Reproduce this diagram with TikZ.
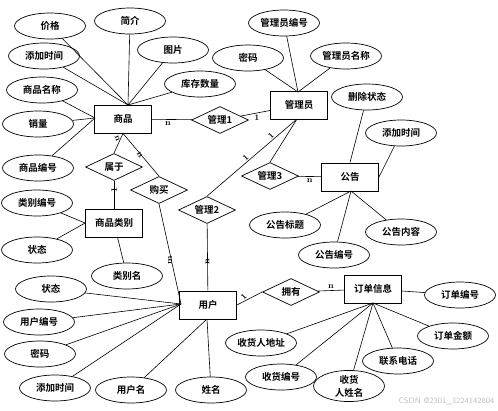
\documentclass[tikz,border=0pt]{standalone}
\usepackage{fontspec}
\newfontfamily\cjk{Noto Sans CJK SC}[BoldFont={Noto Sans CJK SC Bold}]
\usetikzlibrary{shapes.geometric}
\tikzset{
  attr/.style={ellipse, draw, line width=0.7pt, minimum width=71pt, minimum height=26pt, inner sep=0pt, font=\cjk\bfseries\fontsize{9.5}{10}\selectfont},
  ent/.style={rectangle, draw, line width=0.9pt, minimum width=57pt, minimum height=28pt, inner sep=0pt, font=\cjk\bfseries\fontsize{9.5}{10}\selectfont},
  rel/.style={diamond, draw, line width=0.7pt, minimum width=57pt, minimum height=27pt, aspect=2.2, inner sep=0pt, font=\cjk\bfseries\fontsize{9.5}{10}\selectfont},
  card/.style={font=\bfseries\fontsize{8.5}{8.5}\selectfont, inner sep=1.5pt},
  lk/.style={line width=0.6pt}
}

\begin{document}
\begin{tikzpicture}[x=1pt, y=-1pt]
  \useasboundingbox (0,0) rectangle (498,410);

  % entities
  \node[ent] (sp)   at (123,119) {商品};
  \node[ent] (splb) at (114,223) {商品类别};
  \node[ent] (gly)  at (299,105) {管理员};
  \node[ent] (gg)   at (350,177) {公告};
  \node[ent] (yh)   at (208,305) {用户};
  \node[ent] (dd)   at (373,289) {订单信息};

  % relationships
  \node[rel] (gl1) at (220,120) {管理1};
  \node[rel] (sy)  at (114,167) {属于};
  \node[rel] (gm)  at (159,190) {购买};
  \node[rel] (gl2) at (207,210) {管理2};
  \node[rel] (gl3) at (270,176) {管理3};
  \node[rel] (yy)  at (291,292) {拥有};

  % attributes of 商品
  \node[attr] (jg)   at (50,26)  {价格};
  \node[attr] (jj)   at (130,21) {简介};
  \node[attr] (tj1)  at (44,56)  {添加时间};
  \node[attr] (tp)   at (173,50) {图片};
  \node[attr] (spmc) at (42,90)  {商品名称};
  \node[attr] (kc)   at (200,84) {库存数量};
  \node[attr] (xl)   at (38,124) {销量};
  \node[attr] (spbh) at (38,168) {商品编号};

  % attributes of 商品类别
  \node[attr] (lbbh) at (37,203) {类别编号};
  \node[attr] (zt1)  at (37,250) {状态};
  \node[attr] (lbm)  at (127,276) {类别名};

  % attributes of 管理员
  \node[attr] (glybh) at (284,23) {管理员编号};
  \node[attr] (mm1)   at (248,58) {密码};
  \node[attr] (glymc) at (346,56) {管理员名称};

  % attributes of 公告
  \node[attr] (sczt) at (367,97)  {删除状态};
  \node[attr] (tj2)  at (401,133) {添加时间};
  \node[attr] (ggbt) at (285,225) {公告标题};
  \node[attr] (ggbh) at (334,255) {公告编号};
  \node[attr] (ggnr) at (401,232) {公告内容};

  % attributes of 用户
  \node[attr] (zt2)  at (51,289)  {状态};
  \node[attr] (yhbh) at (39,322)  {用户编号};
  \node[attr] (mm2)  at (40,354)  {密码};
  \node[attr] (tj3)  at (55,388)  {添加时间};
  \node[attr] (yhm)  at (131,390) {用户名};
  \node[attr] (xm)   at (211,390) {姓名};

  % attributes of 订单信息
  \node[attr] (ddbh) at (460,295) {订单编号};
  \node[attr] (ddje) at (453,336) {订单金额};
  \node[attr] (lxdh) at (398,361) {联系电话};
  \node[attr] (shdz) at (261,343) {收货人地址};
  \node[attr] (shbh) at (281,377) {收货编号};
  \node[attr, align=center, font=\cjk\bfseries\fontsize{9.5}{13}\selectfont] (shxm) at (349,386) {收货\\人姓名};

  % meeting points
  \coordinate (spT) at (128,105);
  \coordinate (spL) at (95,118);
  \coordinate (glyT) at (298,92);
  \coordinate (glyB) at (297,119);
  \coordinate (ggB) at (351,191);
  \coordinate (yhL) at (181,304);
  \coordinate (yhB) at (207,319);
  \coordinate (ddB) at (373,303);

  % 商品
  \foreach \a in {jg,jj,tj1,tp,kc} \draw[lk] (\a) -- (spT);
  \foreach \a in {spmc,xl,spbh} \draw[lk] (\a) -- (spL);
  % 商品类别
  \foreach \a in {lbbh,zt1} \draw[lk] (\a) -- (splb.west);
  \draw[lk] (splb) -- (lbm);
  % 管理员
  \foreach \a in {glybh,mm1,glymc} \draw[lk] (\a) -- (glyT);
  % 公告
  \draw[lk] (sczt) -- (gg.north);
  \draw[lk] (tj2) -- (gg.east);
  \foreach \a in {ggbt,ggbh,ggnr} \draw[lk] (\a) -- (ggB);
  % 用户
  \foreach \a in {zt2,yhbh,mm2,tj3} \draw[lk] (\a) -- (yhL);
  \foreach \a in {yhm,xm} \draw[lk] (\a) -- (yhB);
  % 订单信息
  \draw[lk] (dd) -- (ddbh);
  \foreach \a in {ddje,lxdh,shxm,shbh,shdz} \draw[lk] (\a) -- (ddB);

  % relationships
  \draw[lk] (sp) -- node[card, below, pos=0.4]{n} (gl1);
  \draw[lk] (gl1) -- node[card, below, pos=0.55]{1} (gly);
  \draw[lk] (sp.south) -- node[card, left, pos=0.45, rotate=-70]{n} (sy.north);
  \draw[lk] (sp.south) -- node[card, right, pos=0.4, rotate=-60]{n} (gm.north);
  \draw[lk] (sy) -- node[card, right, rotate=90]{1} (splb);
  \draw[lk] (gm.south) -- node[card, left, rotate=90]{m} (yhL);
  \draw[lk] (gl2.north) -- node[card, above left, pos=0.5, rotate=45]{1} node[card, above left, pos=0.78, rotate=45]{1} (glyB);
  \draw[lk] (gl3.north) -- (glyB);
  \draw[lk] (gl3) -- node[card, below]{n} (gg);
  \draw[lk] (gl2) -- node[card, left, rotate=90]{n} (yh);
  \draw[lk] (yh.east) -- node[card, above, pos=0.4, rotate=45]{1} (yy.west);
  \draw[lk] (yy) -- node[card, above]{n} (dd);

  \node[text=black!25, font=\sffamily\fontsize{8}{8}\selectfont, anchor=south east] (wm) at (498,408) {CSDN @2301\_3224142804};
\end{tikzpicture}
\end{document}
